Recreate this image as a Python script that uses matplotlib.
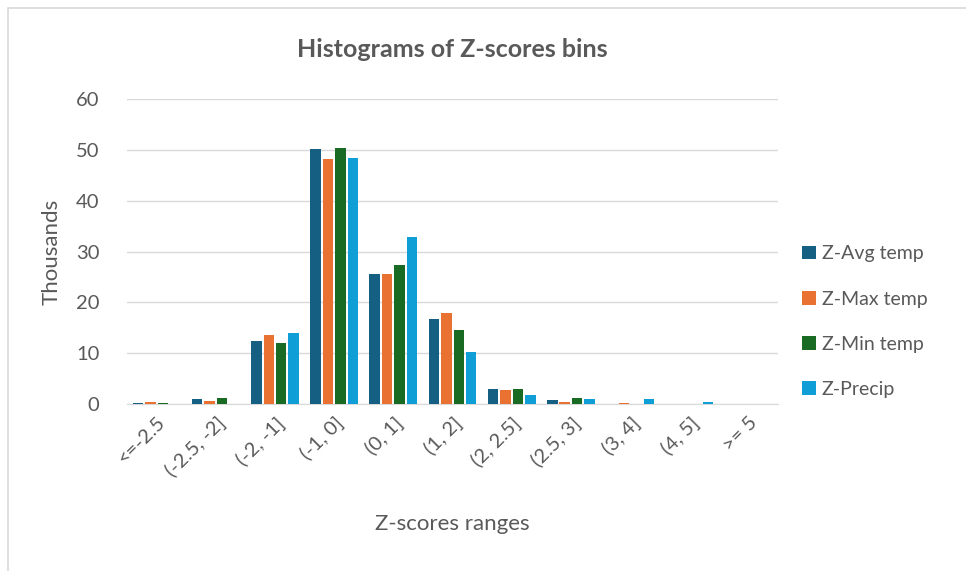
import matplotlib.pyplot as plt
import numpy as np
from matplotlib.patches import Rectangle

# bins of z-scores and counts (thousands)
bins = ['<=-2.5', '(-2.5, -2]', '(-2, -1]', '(-1, 0]', '(0, 1]', '(1, 2]',
        '(2, 2.5]', '(2.5, 3]', '(3, 4]', '(4, 5]', '>= 5']
avg_temp = [0.1, 0.9, 12.4, 50.2, 25.5, 16.8, 2.85, 0.75, 0.05, 0.0, 0.03]
max_temp = [0.35, 0.6, 13.6, 48.2, 25.6, 18.0, 2.75, 0.45, 0.1, 0.0, 0.0]
min_temp = [0.1, 1.1, 12.0, 50.3, 27.3, 14.5, 2.95, 1.15, 0.0, 0.0, 0.0]
precip = [0.0, 0.0, 13.9, 48.5, 32.8, 10.3, 1.8, 1.0, 0.95, 0.35, 0.05]

series = [avg_temp, max_temp, min_temp, precip]
names = ['Z-Avg temp', 'Z-Max temp', 'Z-Min temp', 'Z-Precip']
colors = ['#156082', '#E97132', '#196B24', '#0F9ED5']

plt.rcParams['font.family'] = ['Lato', 'DejaVu Sans']
txt = '#595959'

fig = plt.figure(figsize=(9.66, 5.71), dpi=100)
ax = fig.add_axes([0.1315, 0.2925, 0.674, 0.534])

x = np.arange(len(bins))
pitch = 0.21
for i, (vals, name, c) in enumerate(zip(series, names, colors)):
    ax.bar(x + (i - 1.5) * pitch, vals, width=0.178, color=c, label=name, zorder=3)

ax.set_ylim(0, 60)
ax.set_xlim(-0.5, len(bins) - 0.5)
ax.set_yticks(range(0, 61, 10))
ax.yaxis.grid(True, color='#d9d9d9', linewidth=1, zorder=0)
for s in ['top', 'right', 'left']:
    ax.spines[s].set_visible(False)
ax.spines['bottom'].set_color('#d9d9d9')
ax.tick_params(axis='both', length=0, colors=txt, labelsize=14.5)
ax.tick_params(axis='y', pad=20)
ax.tick_params(axis='x', pad=7)
ax.set_xticks(x)
ax.set_xticklabels(bins, rotation=45, ha='right', rotation_mode='anchor')

ax.set_ylabel('Thousands', fontsize=16, color=txt, labelpad=10)
ax.set_xlabel('Z-scores ranges', fontsize=16, color=txt, labelpad=24)
ax.set_title('Histograms of Z-scores bins', fontsize=18, fontweight='bold',
             color=txt, pad=30)

ax.legend(loc='center left', bbox_to_anchor=(1.01, 0.27), frameon=False,
          fontsize=14, labelcolor=txt, handlelength=0.7, handleheight=0.7,
          handletextpad=0.3, labelspacing=1.45)

# chart border
fig.add_artist(Rectangle((0.008, -0.01), 1.1, 0.996, transform=fig.transFigure,
                         fill=False, edgecolor='#d9d9d9', linewidth=1.2))

fig.savefig('out.png', dpi=100)
